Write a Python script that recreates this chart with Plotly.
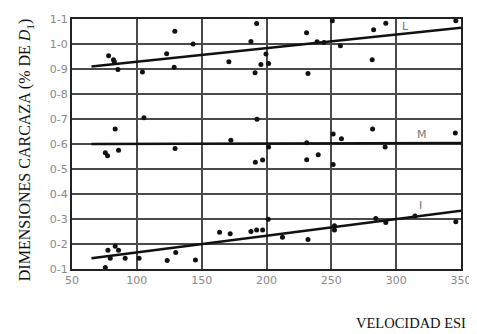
import plotly.graph_objects as go

# ---- data ----
L_x = [78.2, 82.0, 82.6, 85.4, 104.3, 123.0, 129.3, 128.8, 143.4, 171.0, 188.0, 192.4, 191.2,
       195.7, 199.6, 201.6, 230.9, 232.0, 239.0, 244.3, 250.8, 257.0, 282.6, 281.5, 292.0, 346.0]
L_y = [0.953, 0.937, 0.930, 0.898, 0.888, 0.961, 1.051, 0.907, 1.000, 0.929, 1.010, 1.082, 0.885,
       0.918, 0.960, 0.922, 1.045, 0.882, 1.009, 1.006, 1.093, 0.993, 1.057, 0.937, 1.083, 1.093]

M_x = [75.7, 77.4, 83.3, 85.9, 105.5, 129.5, 172.5, 192.7, 191.4, 197.0, 201.6, 231.0, 231.0,
       239.9, 251.4, 251.4, 257.8, 281.8, 291.5, 345.6]
M_y = [0.565, 0.553, 0.660, 0.575, 0.705, 0.582, 0.615, 0.699, 0.527, 0.536, 0.588, 0.537, 0.605,
       0.557, 0.640, 0.518, 0.621, 0.660, 0.588, 0.644]

I_x = [75.7, 77.7, 79.5, 83.3, 85.9, 91.0, 101.7, 123.4, 130.0, 145.2, 163.8, 172.0, 188.0, 192.4,
       197.0, 201.3, 212.3, 232.0, 252.4, 252.4, 284.3, 292.0, 314.5, 346.0]
I_y = [0.106, 0.175, 0.143, 0.191, 0.175, 0.143, 0.143, 0.134, 0.166, 0.136, 0.247, 0.241, 0.250,
       0.256, 0.256, 0.299, 0.227, 0.218, 0.273, 0.256, 0.302, 0.286, 0.312, 0.289]

# trend lines (endpoints)
L_line_x = [65, 350]
L_line_y = [0.910, 1.065]
M_line_x = [65, 350]
M_line_y = [0.600, 0.604]
I_line_x = [65, 350]
I_line_y = [0.143, 0.333]

series_labels = ["L", "M", "I"]
label_x = [307, 320, 319]
label_y = [1.07, 0.64, 0.355]

y_ticks = [0.1, 0.2, 0.3, 0.4, 0.5, 0.6, 0.7, 0.8, 0.9, 1.0, 1.1]
y_ticktext = ["0-1", "0-2", "0-3", "0-4", "0-5", "0-6", "0-7", "0-8", "0-9", "1-0", "1-1"]
x_ticks = [50, 100, 150, 200, 250, 300, 350]

fig = go.Figure()
for lx, ly in [(L_line_x, L_line_y), (M_line_x, M_line_y), (I_line_x, I_line_y)]:
    fig.add_trace(go.Scatter(x=lx, y=ly, mode="lines",
                             line=dict(color="#111", width=2.6), showlegend=False))
for px, py in [(L_x, L_y), (M_x, M_y), (I_x, I_y)]:
    fig.add_trace(go.Scatter(x=px, y=py, mode="markers",
                             marker=dict(color="#111", size=5), showlegend=False,
                             cliponaxis=False))

for t, lx, ly in zip(series_labels, label_x, label_y):
    fig.add_annotation(x=lx, y=ly, text=t, showarrow=False,
                       font=dict(family="DejaVu Sans", size=11, color="#777"))

fig.add_annotation(xref="paper", yref="paper", x=-0.119, y=0.474, xanchor="center", yanchor="middle",
                   text="DIMENSIONES CARCAZA (% DE <i>D</i><sub>1</sub>)", textangle=-90,
                   showarrow=False,
                   font=dict(family="Liberation Serif, Times New Roman, serif", size=16, color="#111"))

fig.add_annotation(xref="paper", yref="paper", x=0.725, y=-0.214, xanchor="left", yanchor="middle",
                   text="VELOCIDAD ESI", showarrow=False,
                   font=dict(family="Liberation Serif, Times New Roman, serif", size=14.5, color="#111"))

axis_common = dict(showline=True, linecolor="#222", linewidth=2, mirror=True,
                   showgrid=True, gridcolor="#4a4a4a", gridwidth=1.7, zeroline=False,
                   ticks="", tickfont=dict(family="DejaVu Sans", size=11, color="#888"))

fig.update_xaxes(range=[50, 350], tickvals=x_ticks, **axis_common)
fig.update_yaxes(range=[0.1, 1.1], tickvals=y_ticks, ticktext=y_ticktext, **axis_common)

# page body has an 8px margin, so the figure is sized/offset to compensate
fig.update_layout(width=469, height=326,
                  margin=dict(l=63.5, r=14, t=5.3, b=64.7),
                  plot_bgcolor="white", paper_bgcolor="white")

fig.write_html("out.html")
